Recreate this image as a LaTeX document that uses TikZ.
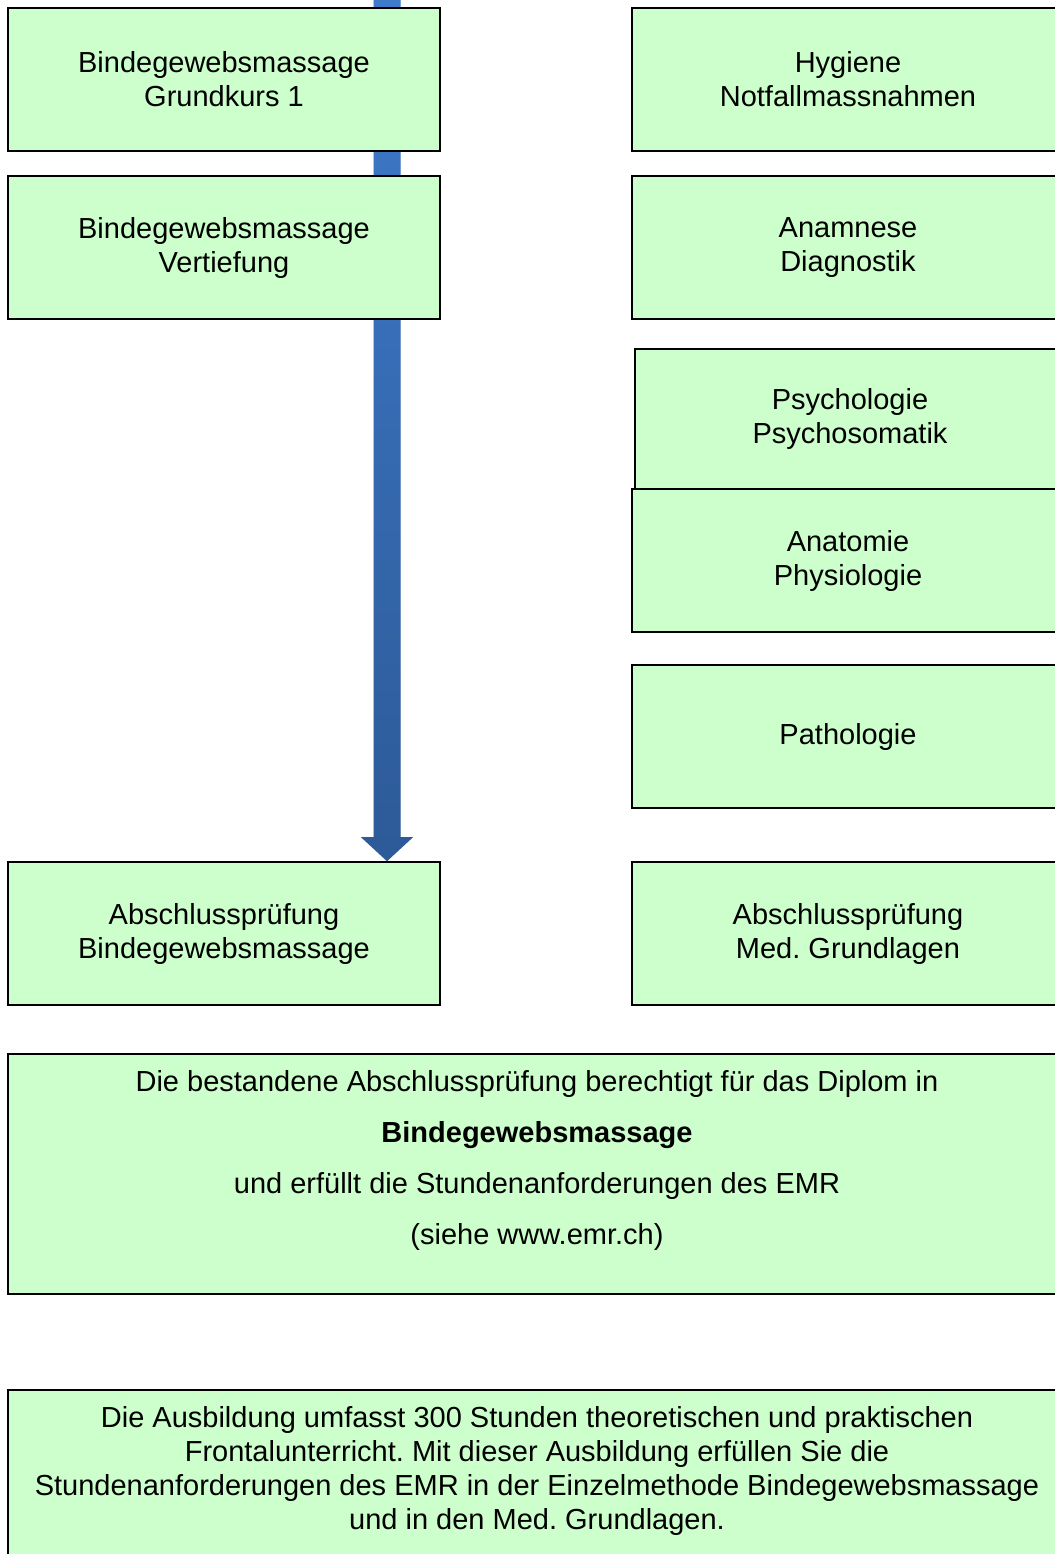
\documentclass[tikz,border=0pt]{standalone}
\usepackage{fontspec}
\setmainfont{Liberation Sans}
\usepackage{xcolor}
\usetikzlibrary{positioning,calc}
\definecolor{BoxGreen}{HTML}{CCFFCC}
\definecolor{ArrowTop}{HTML}{3E7BCB}
\definecolor{ArrowBottom}{HTML}{2D5A98}
\pgfdeclarelayer{background}
\pgfsetlayers{background,main}
\frenchspacing

\begin{document}
\begin{tikzpicture}[x=0.5pt, y=-0.5pt,
    box/.style={draw=black, line width=0.8pt, fill=BoxGreen, rectangle,
      minimum width=216pt, minimum height=71.5pt, align=center,
      font=\fontsize{14.5}{17}\selectfont},
    txt/.style={align=center, font=\fontsize{14.5}{17}\selectfont}]
      \useasboundingbox (0,0) rectangle (1055,1554);
      \clip (0,0) rectangle (1055,1554);

      % Left column
      \node[box] (grund) at (224,79.5) {Bindegewebsmassage\\Grundkurs 1};
      \node[box] (vertief) at (224,247.5) {Bindegewebsmassage\\Vertiefung};
      \node[box] (pruefbgm) at (224,933.5) {Abschlussprüfung\\Bindegewebsmassage};

      % Right column
      \node[box] (hygiene) at (848,79.5) {Hygiene\\Notfallmassnahmen};
      \node[box] (anamnese) at (848,247.5) {Anamnese\\Diagnostik};
      \node[box, minimum width=215pt, minimum height=70pt] (psycho) at (850,419) {Psychologie\\Psychosomatik};
      \node[box] (anatomie) at (848,560.5) {Anatomie\\Physiologie};
      \node[box] (patho) at (848,736.5) {Pathologie};
      \node[box] (pruefmed) at (848,933.5) {Abschlussprüfung\\Med. Grundlagen};

      % Diploma box
      \node[box, minimum width=529pt, minimum height=120pt] (diplom) at (537,1174) {};
      \node[txt, font=\fontsize{14.5}{25.5}\selectfont] (diplomtxt) at (537,1160.5)
        {Die bestandene Abschlussprüfung berechtigt für das Diplom in\\
         \textbf{Bindegewebsmassage}\\
         und erfüllt die Stundenanforderungen des EMR\\
         (siehe www.emr.ch)};

      % Summary box
      \node[box, minimum width=529pt, minimum height=90pt] (umfang) at (537,1480) {};
      \node[txt] (umfangtxt) at (537,1471)
        {Die Ausbildung umfasst 300 Stunden theoretischen und praktischen\\
         Frontalunterricht. Mit dieser Ausbildung erfüllen Sie die\\
         Stundenanforderungen des EMR in der Einzelmethode Bindegewebsmassage\\
         und in den Med. Grundlagen.};

      % Arrow behind the boxes
      \coordinate (arrtop) at (387,-5);
      \coordinate (tip) at (arrtop |- pruefbgm.north);
      \begin{pgfonlayer}{background}
        \fill[black!12, shift={(3,3)}]
          ($(arrtop)+(-13.5,0)$) -- ($(arrtop)+(13.5,0)$)
          -- ($(tip)+(13.5,-24)$) -- ($(tip)+(26,-24)$) -- (tip)
          -- ($(tip)+(-26,-24)$) -- ($(tip)+(-13.5,-24)$) -- cycle;
        \shade[top color=ArrowTop, bottom color=ArrowBottom]
          ($(arrtop)+(-13.5,0)$) -- ($(arrtop)+(13.5,0)$)
          -- ($(tip)+(13.5,-24)$) -- ($(tip)+(26,-24)$) -- (tip)
          -- ($(tip)+(-26,-24)$) -- ($(tip)+(-13.5,-24)$) -- cycle;
      \end{pgfonlayer}
    \end{tikzpicture}
\end{document}
